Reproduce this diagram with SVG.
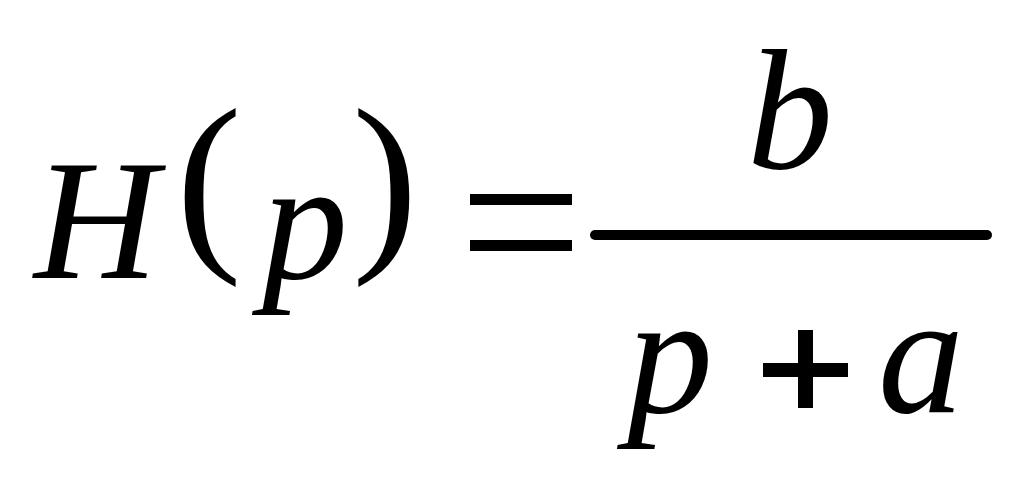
<svg xmlns="http://www.w3.org/2000/svg" width="1024" height="486" viewBox="0 0 1024 486">
<style>
.v{font-family:"Liberation Serif","DejaVu Serif",serif;font-style:italic;font-size:172px;fill:#000}
.u{font-family:"Liberation Serif","DejaVu Serif",serif;font-size:198px;fill:#000}
</style>
<rect width="1024" height="486" fill="#fff"/>
<g id="lhs">
<text class="v" x="34" y="278">H</text>
<text class="u" x="176" y="245">(</text>
<text class="u" x="352" y="245">)</text>
<text class="v" x="262" y="278">p</text>
</g>
<g id="eq">
<rect x="470" y="194" width="102" height="11"/>
<rect x="470" y="240" width="102" height="11"/>
</g>
<g id="frac">
<text class="v" x="747" y="168">b</text>
<rect x="590" y="230" width="402" height="10" rx="5"/>
<text class="v" x="627" y="412">p</text>
<rect x="763" y="363" width="85" height="14"/>
<rect x="798" y="330" width="15" height="78"/>
<text class="v" x="878" y="412">a</text>
</g>
</svg>
